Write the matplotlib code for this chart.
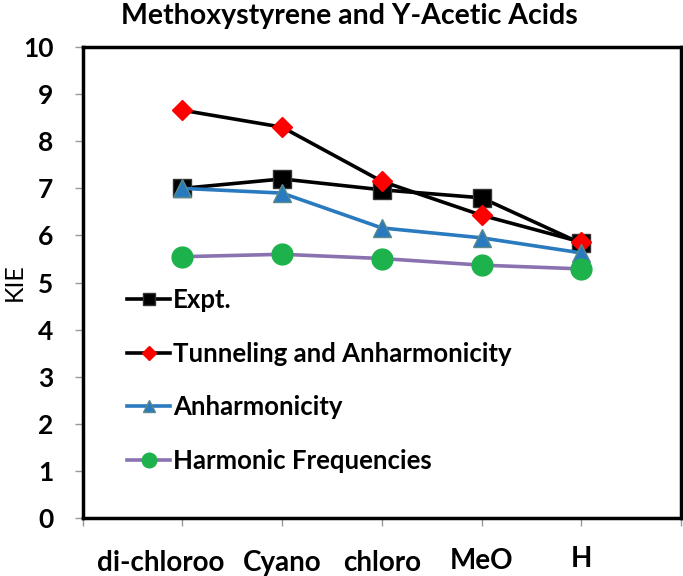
import matplotlib.pyplot as plt
from matplotlib.transforms import ScaledTranslation

# KIE values
categories = ["di-chloroo", "Cyano", "chloro", "MeO", "H"]
expt = [7.0, 7.2, 6.97, 6.8, 5.83]
tunneling = [8.66, 8.3, 7.15, 6.43, 5.86]
anharmonic = [7.0, 6.9, 6.16, 5.95, 5.63]
harmonic = [5.55, 5.6, 5.51, 5.37, 5.29]

plt.rcParams['font.family'] = ['Lato', 'DejaVu Sans']

fig = plt.figure(figsize=(6.83, 5.76), dpi=100)
ax = fig.add_axes([0.121, 0.1007, 0.876, 0.8175])

x = list(range(1, len(categories) + 1))
ax.plot(x, expt, color='black', lw=2.6, marker='s', ms=13, mfc='black', mec='#333333', label='Expt.')
ax.plot(x, tunneling, color='black', lw=2.6, marker='D', ms=10.5, mfc='#ff0000', mec='#ff0000', label='Tunneling and Anharmonicity')
ax.plot(x, anharmonic, color='#2a7abf', lw=2.6, marker='^', ms=13, mfc='#2a7abf', mec='#5a8a8a', label='Anharmonicity')
ax.plot(x, harmonic, color='#8a72b0', lw=2.6, marker='o', ms=15, mfc='#1db24c', mec='#1db24c', label='Harmonic Frequencies')

ax.set_xlim(0, len(categories) + 1)
ax.set_ylim(0, 10)
ax.set_yticks(range(0, 11))
ax.set_yticklabels([str(v) for v in range(0, 11)], fontsize=19, fontweight='bold')

# category labels on the major ticks, outer ticks as minor
ax.set_xticks(x)
ax.set_xticklabels(categories, fontsize=20, fontweight='bold')
ax.set_xticks([0, len(categories) + 1], minor=True)
ax.tick_params(axis='x', which='major', pad=17)
ax.tick_params(axis='both', which='both', length=6, color='#999999', width=1)
ax.tick_params(axis='y', pad=15)

# small per-label nudges as in the original
shifts = [(-22, 0), (0, 0), (0, 0), (0, 2), (0, 4)]
for lab, (dx, dy) in zip(ax.get_xticklabels(), shifts):
    lab.set_transform(lab.get_transform() + ScaledTranslation(dx / 100, dy / 100, fig.dpi_scale_trans))

for s in ax.spines.values():
    s.set_linewidth(2.5)
    s.set_color('black')

ax.set_ylabel('KIE', fontsize=18, labelpad=-2)
ax.set_title('Methoxystyrene and Y-Acetic Acids', fontsize=20.5, fontweight='bold', pad=16.5, x=0.446)

ax.legend(loc='upper left', bbox_to_anchor=(0.035, 0.537), frameon=False,
          prop={'size': 18.5, 'weight': 'bold'}, markerscale=0.7,
          handlelength=1.7, handletextpad=0.1, labelspacing=1.15)

fig.savefig('out.png', dpi=100)
